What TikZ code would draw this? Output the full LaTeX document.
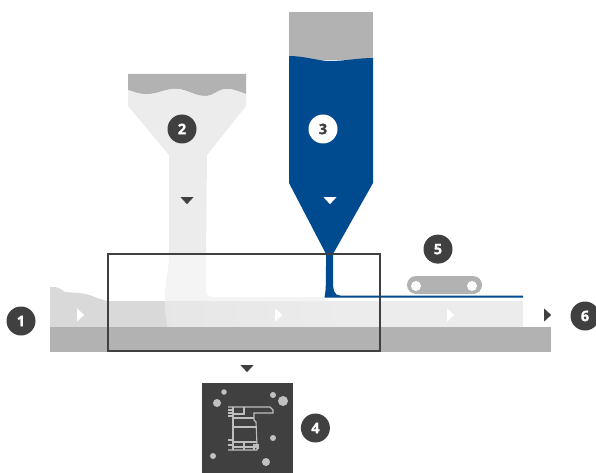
\documentclass[tikz,border=0pt]{standalone}
\usepackage{xcolor}
\usepackage{fontspec}
\setmainfont{Open Sans}[BoldFeatures={FakeBold=1.5}]
\usetikzlibrary{positioning, shapes.geometric}
\definecolor{DarkGrey}{HTML}{404040}
\definecolor{MidGrey}{HTML}{B2B2B2}
\definecolor{PaleGrey}{HTML}{ECECEC}
\definecolor{StripGrey}{HTML}{D9D9D9}
\definecolor{FlowBlue}{HTML}{004A8F}

\begin{document}
\begin{tikzpicture}[
            x=1pt, y=-1pt,
            node distance=8pt and 8pt,
            badge/.style={circle, fill=DarkGrey, text=white, minimum size=29pt, inner sep=0pt, font=\fontsize{14.5}{14.5}\selectfont\bfseries},
            invbadge/.style={badge, fill=white, text=DarkGrey},
            tipdown/.style={isosceles triangle, isosceles triangle apex angle=90, isosceles triangle stretches, shape border rotate=-90, minimum width=13pt, minimum height=7pt, inner sep=0pt},
            tipright/.style={tipdown, shape border rotate=0, minimum width=13pt, minimum height=7pt},
            dot/.style={circle, fill=MidGrey!80!white, inner sep=0pt},
            profile/.style={draw=MidGrey!85!white, line width=1.1pt}
        ]
            \useasboundingbox (0,0) rectangle (596,473);

            % strip and base
            \fill[PaleGrey] (165,301) rectangle (523,327);
            \shade[left color=PaleGrey!70!StripGrey, right color=PaleGrey] (166,301) rectangle (350,327);
            \fill[StripGrey] (50,327) -- (50,287) .. controls (55,286) and (60,288) .. (65,292)
                .. controls (75,293) and (85,292) .. (97,298) -- (107,301) -- (165,301)
                .. controls (165,312) and (166,320) .. (167,327) -- cycle;
            \fill[MidGrey] (50,327) rectangle (551,352);

            % funnel 2
            \fill[PaleGrey] (128,90) -- (128,106) -- (169,155) -- (169,254) -- (206,254) -- (207,155) -- (246,106) -- (246,90) -- cycle;
            \fill[MidGrey] (128,74) -- (128,90) .. controls (136,93) and (144,95) .. (150,94)
                .. controls (160,93) and (168,88) .. (178,89) .. controls (188,90) and (195,96) .. (205,96)
                .. controls (215,96) and (217,89) .. (227,89) .. controls (234,89) and (240,92) .. (246,94)
                -- (246,74) -- cycle;
            \fill[PaleGrey] (128,90) .. controls (136,93) and (144,95) .. (150,94)
                .. controls (160,93) and (168,88) .. (178,89) .. controls (188,90) and (195,96) .. (205,96)
                .. controls (215,96) and (217,89) .. (227,89) .. controls (234,89) and (240,92) .. (246,94)
                -- (246,106) -- (128,106) -- cycle;
            % stem in the frame
            \fill[PaleGrey!60!white] (169,254) .. controls (169,272) and (165,280) .. (165,296)
                -- (165,301) -- (325,301) -- (325,297) -- (212,297)
                .. controls (207,297) and (206,293) .. (206,288) -- (206,254) -- cycle;

            % hopper 3
            \fill[MidGrey] (289,12) rectangle (373,60);
            \fill[FlowBlue] (289,56) .. controls (305,56) and (318,61) .. (330,61)
                .. controls (345,61) and (358,58) .. (373,58) -- (373,183) -- (333,254)
                -- (333,280) .. controls (333,290) and (334,295.5) .. (340,295.5) -- (523,295.5) -- (523,297.5)
                -- (324.5,297.5) .. controls (326,290) and (326,285) .. (326,254) -- (289,183) -- cycle;

            % frame
            \node[draw=DarkGrey, line width=1.5pt, inner sep=0pt, minimum width=272pt, minimum height=97pt] (frame) at (244,302.5) {};

            % roller
            \node[fill=MidGrey, rounded corners=9pt, minimum width=75pt, minimum height=18pt, inner sep=0pt] (roller) at (444.5,285) {};
            \node[circle, fill=white, minimum size=10pt, inner sep=0pt] (rollerl) at (416,286) {};
            \node[circle, fill=white, minimum size=10pt, inner sep=0pt] (rollerr) at (472,286) {};

            % sample
            \node[fill=DarkGrey, minimum width=91pt, minimum height=90pt, inner sep=0pt] (sample) at (247.5,428) {};
            \node[dot, minimum size=5.5pt] (dota) at (224,392) {};
            \node[dot, minimum size=8pt] (dotb) at (217,403) {};
            \node[dot, minimum size=6pt] (dotc) at (273,395) {};
            \node[dot, minimum size=10pt] (dotd) at (283,401) {};
            \node[dot, minimum size=6pt] (dote) at (273,438) {};
            \node[dot, minimum size=6pt] (dotf) at (213,456) {};
            \node[dot, minimum size=8pt] (dotg) at (266,462) {};

            % window profile
            \draw[profile] (228,407) -- (270,407) -- (273,410) -- (273,413) -- (254,413) -- (254,420) -- (256,422) -- (257,445) -- (257,450) -- (228,450);
            \draw[profile] (233,407) -- (233,450);
            \draw[profile] (233,418) -- (254,418);
            \draw[profile] (233,427) -- (257,427);
            \draw[profile] (233,442) -- (257,442);
            \draw[profile] (233,447) -- (257,447);
            \draw[profile] (244,407) -- (244,414) -- (233,414);
            \draw[profile] (244,442) -- (244,450);
            \draw[profile] (254,450) -- (254,445) -- (258,445) -- (258,449);
            \draw[profile] (228,410) -- (233,410);
            \draw[profile] (228,413) -- (233,413);
            \draw[profile] (228,416) -- (233,416);
            \draw[profile] (228,440) -- (233,440);
            \draw[profile] (228,445) -- (233,445);

            % arrowheads
            \node[tipdown, fill=DarkGrey] (downa) at (187,200) {};
            \node[tipdown, fill=white] (downb) at (330,200) {};
            \node[tipdown, fill=DarkGrey] (downc) at (247,368) {};
            \node[tipright, fill=white] (righta) at (80,315) {};
            \node[tipright, fill=white] (rightb) at (278,315) {};
            \node[tipright, fill=white] (rightc) at (450,315) {};
            \node[tipright, fill=DarkGrey] (rightd) at (547,315) {};

            % badges
            \node[badge] (one) at (21,321) {1};
            \node[badge] (two) at (182,129) {2};
            \node[invbadge] (three) at (323,129) {3};
            \node[badge, right=7.5pt of sample] (four) {4};
            \node[badge, above=12pt of roller, xshift=-6.5pt] (five) {5};
            \node[badge] (six) at (585,316) {6};

        \end{tikzpicture}
\end{document}
